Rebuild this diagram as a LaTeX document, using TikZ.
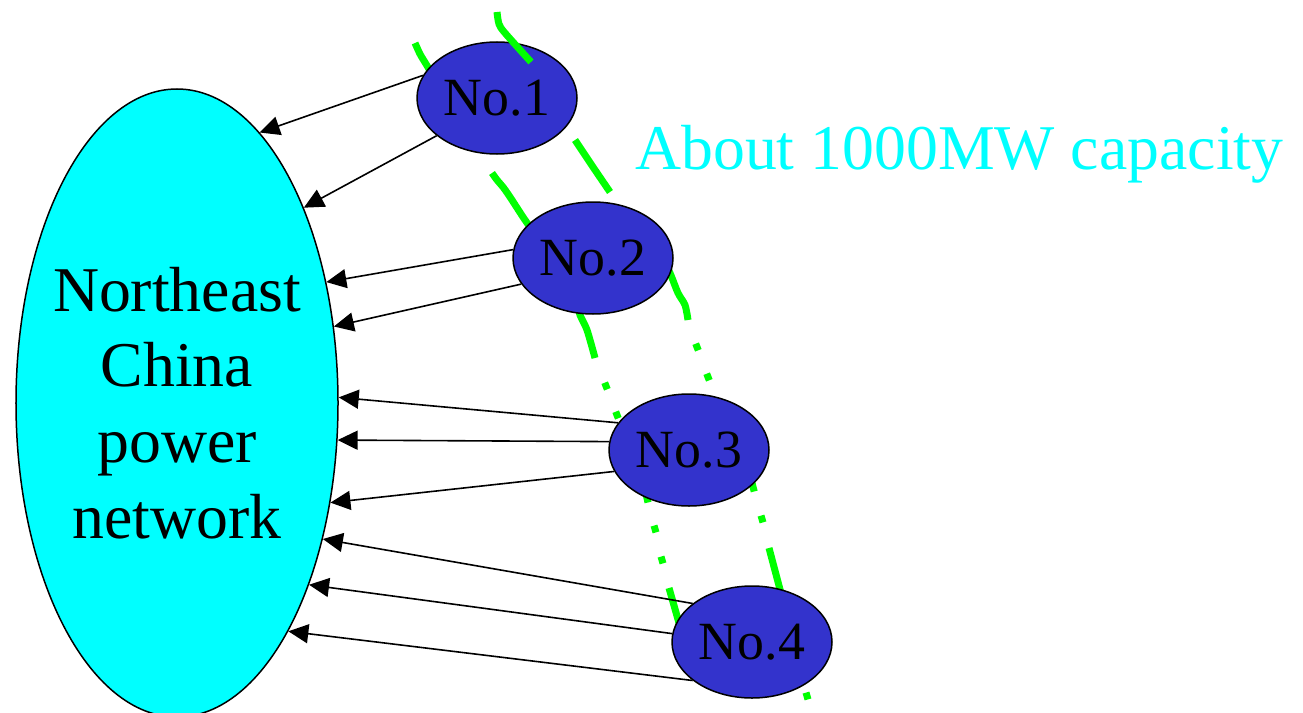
\documentclass[tikz,border=0pt]{standalone}
\usepackage{fontspec}
\setmainfont{Liberation Serif}
\usetikzlibrary{shapes.geometric,arrows.meta}
\definecolor{nodeblue}{HTML}{3333CC}
\definecolor{netcyan}{HTML}{00FFFF}
\definecolor{capgreen}{HTML}{00FF00}
\begin{document}
\begin{tikzpicture}[x=1bp,y=-1bp,
  net/.style={ellipse,draw=black,line width=1.5bp,fill=netcyan,minimum width=322bp,minimum height=628bp,inner sep=0pt},
  unit/.style={ellipse,draw=black,line width=1.5bp,fill=nodeblue,minimum width=160bp,minimum height=112bp,inner sep=0pt,font=\fontsize{54}{60}\selectfont},
  feed/.style={draw=black,line width=1.6bp,-{Triangle[length=20bp,width=19bp]}},
  band/.style={draw=capgreen,line width=7bp},
  bigtext/.style={font=\fontsize{64}{76}\selectfont,align=center,inner sep=0pt},
]
\useasboundingbox (0,0) rectangle (1303,712);

% green capacity band (pieces lying under the units)
\draw[band] plot[smooth] coordinates {(415,43) (420,54) (426,64) (432,74)};
\draw[band] plot[smooth] coordinates {(575,140) (593,167) (610,192)};
\draw[band] plot[smooth] coordinates {(492,173) (497,180) (503,187) (510,197) (523,217) (532,230)};
\draw[band] plot[smooth] coordinates {(664,262) (670,273) (678,293) (685,305) (688,320)};
\draw[band] plot[smooth] coordinates {(578,305) (580,315) (587,330) (595,358)};
\draw[band] (695.7,343.7) -- (698.3,350.3);
\draw[band] (706.7,373.7) -- (709.3,380.3);
\draw[band] (604.7,382.7) -- (607.3,389.3);
\draw[band] (615.7,411.7) -- (618.3,418.3);
\draw[band] (751.8,482) -- (754.2,491.5);
\draw[band] (645.8,493) -- (648,502.5);
\draw[band] (761,515.6) -- (763,522.4);
\draw[band] (654,525.6) -- (656,532.4);
\draw[band] (661,556.6) -- (663,563.4);
\draw[band] (669,588) -- (681,630);
\draw[band] (769,548) -- (782,597);
\draw[band] (806,692.6) -- (808,699.4);

% network and units
\node[net] (ne) at (177,403) {};
\node[bigtext] (nelabel) at (ne.center) {Northeast\\China\\power\\network};
\node[unit] (n1) at (497,98) {No.1};
\node[unit] (n2) at (593,258) {No.2};
\node[unit] (n3) at (689,450) {No.3};
\node[unit] (n4) at (752,642) {No.4};

% green piece lying over unit 1
\draw[band] plot[smooth] coordinates {(497,12) (499,24) (505,33) (531,62)};

\node[font=\fontsize{64}{76}\selectfont,text=netcyan,anchor=base west,inner sep=0pt] (cap) at (635,169) {About 1000MW capacity};

% feeders
\draw[feed] (n1.163.3) -- (ne.73.4);
\draw[feed] (n1.212) -- (ne.57.9);
\draw[feed] (n2.174.3) -- (ne.39.7);
\draw[feed] (n2.200.9) -- (ne.26);
\draw[feed] (n3.159.4) -- (ne.2.8);
\draw[feed] (n3.174.2) -- (ne.-13.7);
\draw[feed] (n3.196.7) -- (ne.-33.9);
\draw[feed] (n4.147.6) -- (ne.-43.4);
\draw[feed] (n4.174.2) -- (ne.-54.8);
\draw[feed] (n4.213.1) -- (ne.-64.9);
\end{tikzpicture}
\end{document}
